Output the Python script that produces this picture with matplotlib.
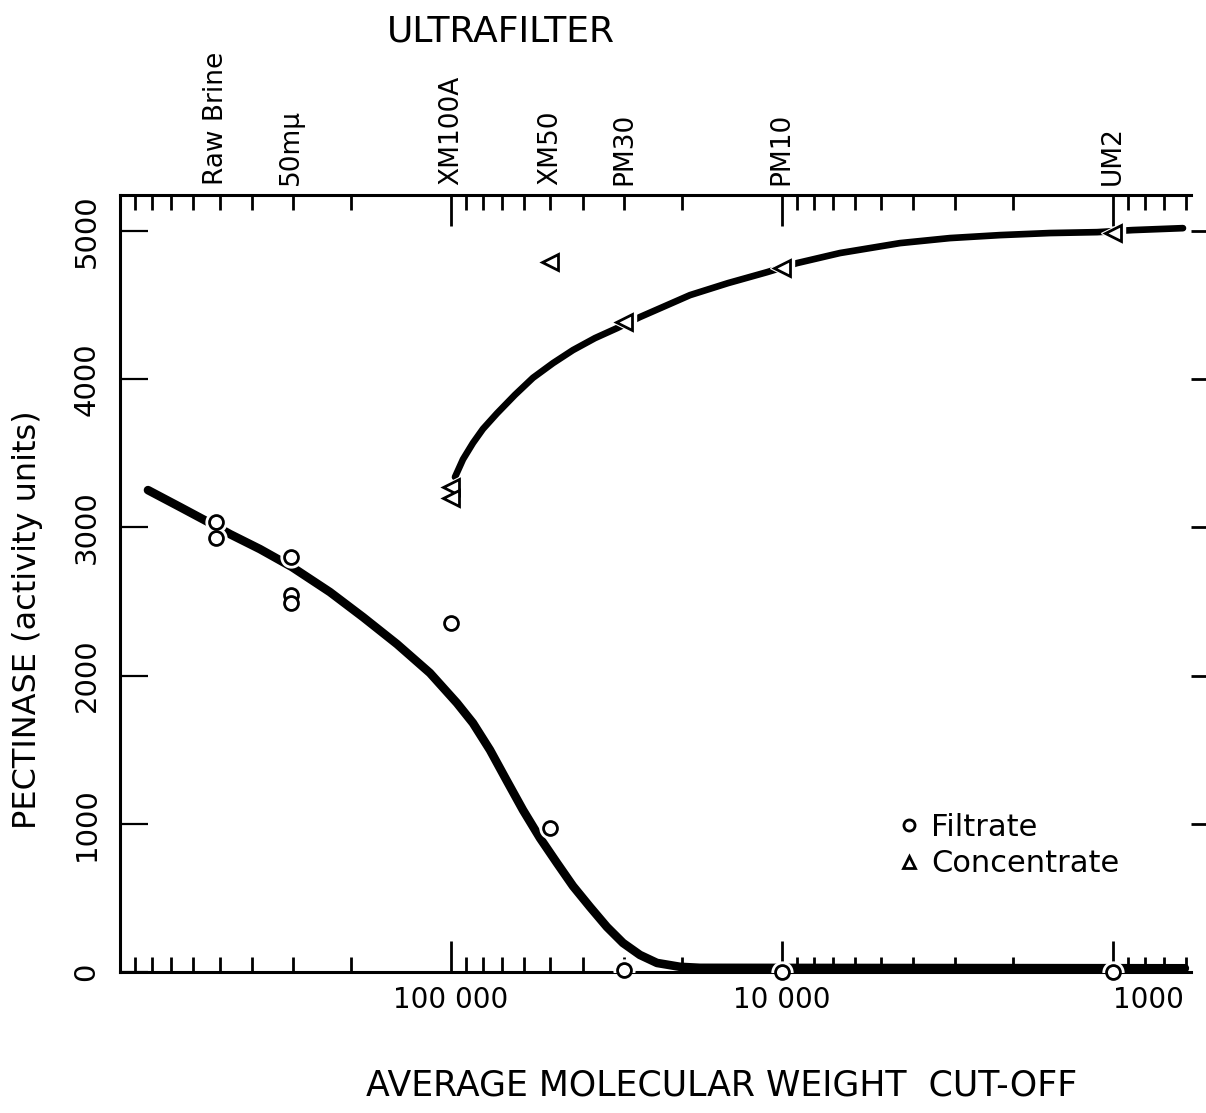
import numpy as np
import matplotlib.pyplot as plt
from matplotlib.lines import Line2D

# ultrafilter membranes and their nominal cut-off
filters = ["Raw Brine", "50m\u03bc", "XM100A", "XM50", "PM30", "PM10", "UM2"]
filter_mw = [512000, 305000, 100000, 50000, 30000, 10000, 1000]

# measured pectinase activity
filtrate_mw = [512000, 512000, 305000, 305000, 305000, 100000, 50000, 30000, 10000, 1000]
filtrate_act = [3035, 2930, 2800, 2545, 2490, 2355, 975, 15, 0, 0]

concentrate_mw = [100000, 100000, 50000, 30000, 10000, 1000]
concentrate_act = [3275, 3200, 4790, 4390, 4750, 4985]

# hand-drawn trend curves
filtrate_curve_mw = [823000, 658600, 534600, 465100, 377600, 302100, 232000, 184300,
                     145500, 115700, 95850, 85760, 76170, 67700, 60550, 53790,
                     47780, 42760, 37980, 33760, 30190, 26830, 23830, 20310,
                     17670, 605]
filtrate_curve_act = [3252, 3138, 3030, 2955, 2854, 2733, 2564, 2395,
                      2213, 2018, 1815, 1680, 1498, 1289, 1093, 904,
                      735, 580, 439, 304, 196, 115, 61, 35,
                      28, 25]

concentrate_curve_mw = [97180, 91910, 85760, 79990, 72560, 64020, 56480, 49130,
                        42760, 36680, 31480, 26830, 22540, 18940, 14540, 11080,
                        9000, 6670, 4393, 3102, 2191, 1547, 1115, 868, 613]
concentrate_curve_act = [3340, 3460, 3570, 3665, 3770, 3895, 4010, 4109,
                         4197, 4278, 4345, 4420, 4494, 4568, 4649, 4723,
                         4784, 4852, 4919, 4953, 4973, 4987, 4993, 5007, 5020]

plt.rcParams['font.family'] = ['DejaVu Sans']

fig = plt.figure(figsize=(12.06, 11.13), dpi=100)
ax = fig.add_axes([0.0995, 0.1267, 0.888, 0.698])

ax.plot(filtrate_curve_mw, filtrate_curve_act, color='black', lw=6.2,
        solid_capstyle='round', solid_joinstyle='round', zorder=2)
ax.plot(concentrate_curve_mw, concentrate_curve_act, color='black', lw=4.8,
        solid_capstyle='round', solid_joinstyle='round', zorder=2)

# white halo under each marker leaves a gap in the curves
ax.plot(filtrate_mw, filtrate_act, 'o', ms=15, mfc='white', mec='white', zorder=3)
ax.plot(concentrate_mw, concentrate_act, '<', ms=17, mfc='white', mec='white', zorder=3)
ax.plot(filtrate_mw, filtrate_act, 'o', ms=10, mfc='white', mec='black', mew=2,
        zorder=4, clip_on=False)
ax.plot(concentrate_mw, concentrate_act, '<', ms=11, mfc='white', mec='black', mew=2,
        zorder=4, clip_on=False)

ax.set_xscale('log')
ax.set_xlim(1e6, 580)
ax.set_ylim(0, 5243)

ax.set_xticks([100000, 10000, 1000], ["100 000", "10 000", "1000"])
for lbl in ax.get_xticklabels():
    if lbl.get_text() == "1000":
        lbl.set_horizontalalignment('left')
ax.set_yticks([0, 1000, 2000, 3000, 4000, 5000])
ax.set_yticklabels(["0", "1000", "2000", "3000", "4000", "5000"],
                   rotation=90, va='center')

ax.tick_params(axis='x', which='major', direction='in', top=True, length=22,
               width=2, labelsize=20, pad=10)
ax.tick_params(axis='x', which='minor', direction='in', top=True, length=11,
               width=2)
ax.tick_params(axis='y', which='major', direction='in', length=20, width=1.6,
               labelsize=21, pad=14)

for side in ['left', 'top', 'bottom']:
    ax.spines[side].set_linewidth(2.2)
ax.spines['right'].set_visible(False)

# short outside dashes on the right edge
rax = ax.secondary_yaxis('right')
rax.set_yticks([1000, 2000, 3000, 4000, 5000])
rax.tick_params(direction='out', length=11, width=2, labelright=False)
rax.spines['right'].set_visible(False)

ax.set_ylabel("PECTINASE (activity units)", fontsize=23)
ax.yaxis.set_label_coords(-0.072, 0.453)
fig.text(0.598, 0.025, "AVERAGE MOLECULAR WEIGHT  CUT-OFF", ha='center',
         va='center', fontsize=25)

# filter names along the top
for name, mw in zip(filters, filter_mw):
    ax.text(mw, 1.013, name, transform=ax.get_xaxis_transform(), rotation=90,
            ha='center', va='bottom', fontsize=19)
fig.text(0.415, 0.972, "ULTRAFILTER", ha='center', va='center', fontsize=26)

handles = [
    Line2D([], [], ls='none', marker='o', ms=8, mfc='white', mec='black', mew=2),
    Line2D([], [], ls='none', marker='^', ms=9, mfc='white', mec='black', mew=2),
]
ax.legend(handles, ["Filtrate", "Concentrate"], loc='lower left',
          bbox_to_anchor=(0.7, 0.085), frameon=False, fontsize=22,
          handletextpad=0.3, handlelength=0.8, labelspacing=0.25)

fig.savefig("out.png", dpi=100)
